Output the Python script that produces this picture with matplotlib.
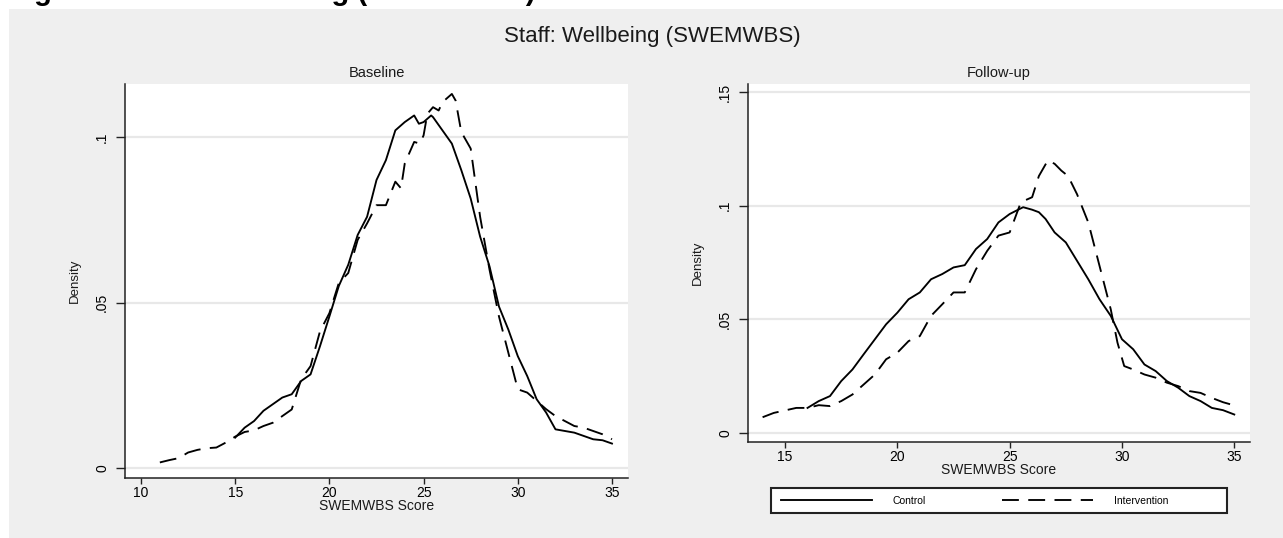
import matplotlib.pyplot as plt
from matplotlib.patches import Rectangle
import numpy as np

plt.rcParams['font.family'] = ['Liberation Sans', 'DejaVu Sans']

# Baseline - Control (solid)
base_ctrl_x = [15, 15.5, 16, 16.5, 17, 17.5, 18, 18.5, 19, 19.5, 20, 20.5, 21, 21.5, 22, 22.5,
               23, 23.5, 24, 24.5, 24.75, 25, 25.4, 25.5, 26, 26.5, 27, 27.5, 28, 28.5, 29,
               29.5, 30, 30.5, 31, 31.5, 32, 32.5, 33, 33.5, 34, 34.5, 35]
base_ctrl_y = [0.0092, 0.0122, 0.0142, 0.0173, 0.0193, 0.0213, 0.0223, 0.0263, 0.0283, 0.0368,
               0.0458, 0.0550, 0.0614, 0.0704, 0.0759, 0.0870, 0.0930, 0.1020, 0.1045, 0.1065,
               0.1040, 0.1045, 0.1065, 0.1060, 0.1020, 0.0980, 0.0900, 0.0814, 0.0699, 0.0609,
               0.0488, 0.0418, 0.0338, 0.0278, 0.0208, 0.0168, 0.0117, 0.0112, 0.0107, 0.0097,
               0.0087, 0.0084, 0.0074]

# Baseline - Intervention (dashed)
base_int_x = [11, 11.5, 12, 12.5, 13, 13.5, 14, 14.5, 15, 15.5, 16, 16.5, 17, 17.5, 18, 18.5,
              19, 19.5, 20, 20.5, 21, 21.5, 22, 22.5, 23, 23.5, 23.8, 24, 24.5, 24.8, 25, 25.2,
              25.5, 25.8, 26, 26.5, 26.7, 27, 27.5, 28, 28.5, 29, 29.5, 30, 30.5, 31, 31.5,
              32, 32.5, 33, 33.5, 34, 34.5, 35]
base_int_y = [0.0017, 0.0024, 0.0030, 0.0047, 0.0055, 0.0060, 0.0062, 0.0077, 0.0095, 0.0109,
              0.0114, 0.0127, 0.0137, 0.0157, 0.0177, 0.0268, 0.0308, 0.0413, 0.0468, 0.0559,
              0.0589, 0.0689, 0.0739, 0.0794, 0.0794, 0.0865, 0.0845, 0.0920, 0.0985, 0.0980,
              0.1005, 0.1070, 0.1090, 0.1080, 0.1105, 0.1130, 0.1110, 0.1015, 0.0965, 0.0759,
              0.0599, 0.0458, 0.0348, 0.0238, 0.0228, 0.0203, 0.0178, 0.0157, 0.0142, 0.0127,
              0.0122, 0.0112, 0.0102, 0.0087]

# Follow-up - Control (solid)
fu_ctrl_x = [16, 16.5, 17, 17.5, 18, 18.5, 19, 19.5, 20, 20.5, 21, 21.5, 22, 22.5, 23, 23.5,
             24, 24.5, 25, 25.3, 25.6, 26, 26.3, 26.6, 27, 27.5, 28, 28.5, 29, 29.5, 30, 30.5,
             31, 31.5, 32, 32.5, 33, 33.5, 34, 34.5, 35]
fu_ctrl_y = [0.0110, 0.0140, 0.0162, 0.0228, 0.0279, 0.0346, 0.0412, 0.0478, 0.0529, 0.0588,
             0.0618, 0.0676, 0.0699, 0.0728, 0.0738, 0.0809, 0.0853, 0.0926, 0.0963, 0.0978,
             0.0993, 0.0982, 0.0971, 0.0941, 0.0882, 0.0838, 0.0757, 0.0676, 0.0588, 0.0515,
             0.0412, 0.0368, 0.0301, 0.0272, 0.0228, 0.0199, 0.0162, 0.0140, 0.0110, 0.0100,
             0.0081]

# Follow-up - Intervention (dashed)
fu_int_x = [14, 14.5, 15, 15.5, 16, 16.5, 17, 17.5, 18, 18.5, 19, 19.5, 20, 20.5, 21, 21.5,
            22, 22.5, 23, 23.5, 24, 24.5, 25, 25.5, 26, 26.3, 26.7, 27, 27.3, 27.6, 28, 28.5,
            29, 29.5, 29.8, 30.1, 30.5, 31, 31.5, 32, 32.5, 33, 33.5, 34, 34.5, 35]
fu_int_y = [0.0069, 0.0088, 0.0099, 0.0110, 0.0110, 0.0122, 0.0118, 0.0140, 0.0169, 0.0213,
            0.0257, 0.0324, 0.0353, 0.0404, 0.0426, 0.0515, 0.0566, 0.0618, 0.0618, 0.0720,
            0.0801, 0.0868, 0.0882, 0.1015, 0.1037, 0.1130, 0.1199, 0.1184, 0.1154, 0.1130,
            0.1050, 0.0926, 0.0735, 0.0544, 0.0397, 0.0294, 0.0279, 0.0257, 0.0243, 0.0221,
            0.0206, 0.0184, 0.0176, 0.0154, 0.0135, 0.0121]

base_xticks = [10, 15, 20, 25, 30, 35]
base_yticks = [0, 0.05, 0.1]
fu_xticks = [15, 20, 25, 30, 35]
fu_yticks = [0, 0.05, 0.1, 0.15]

def fmt_y(v):
    if v == 0:
        return '0'
    return ('%g' % v).lstrip('0')

W, H = 1283, 538
fig = plt.figure(figsize=(W / 100, H / 100), dpi=100, facecolor='white')
fig.patches.append(Rectangle((9 / W, 0), 1 - 9 / W, 1 - 9 / H, transform=fig.transFigure,
                             facecolor='#efefef', edgecolor='none', zorder=-10))

# caption of the page, cut off at the top edge as in the source image
fig.text(8 / W, 1.0, 'Figure 5: Staff Wellbeing (SWEMWBS)', fontsize=21,
         fontweight='bold', ha='left', va='baseline', color='black')

fig.text(652 / W, 1 - 37 / H, 'Staff: Wellbeing (SWEMWBS)', fontsize=16,
         ha='center', va='center', color='#1a1a1a')

DARK = '#222222'
LW = 1.35

def style_axes(ax, xticks, yticks, xlim, ylim, title):
    ax.set_facecolor('white')
    ax.set_xlim(*xlim)
    ax.set_ylim(*ylim)
    for s in ['top', 'right']:
        ax.spines[s].set_visible(False)
    for s in ['left', 'bottom']:
        ax.spines[s].set_color(DARK)
        ax.spines[s].set_linewidth(1.1)
    ax.set_xticks(xticks)
    ax.set_xticklabels([str(t) for t in xticks])
    ax.set_yticks(yticks)
    ax.set_yticklabels([fmt_y(t) for t in yticks], rotation=90, va='center')
    ax.tick_params(axis='x', length=4, width=1, color=DARK, labelsize=10, pad=2)
    ax.tick_params(axis='y', length=6.5, width=1, color=DARK, labelsize=10, pad=5)
    ax.grid(axis='y', color='#e8e8e8', linewidth=1.6)
    ax.set_axisbelow(True)
    ax.set_title(title, fontsize=10.5, pad=5, color='#1a1a1a')
    ax.set_xlabel('SWEMWBS Score', fontsize=10, labelpad=-1, color='#1a1a1a')
    ax.set_ylabel('Density', fontsize=9.5, labelpad=10, color='#1a1a1a')

ax1 = fig.add_axes([125 / W, 1 - 478 / H, (628 - 125) / W, (478 - 84) / H])
ax1.plot(base_ctrl_x, base_ctrl_y, color='black', lw=LW)
ax1.plot(base_int_x, base_int_y, color='black', lw=LW, dashes=(9, 5))
style_axes(ax1, base_xticks, base_yticks, (9.15, 35.85), (-0.003, 0.116), 'Baseline')

ax2 = fig.add_axes([748 / W, 1 - 442 / H, (1250 - 748) / W, (442 - 84) / H])
l1, = ax2.plot(fu_ctrl_x, fu_ctrl_y, color='black', lw=LW, label='Control')
l2, = ax2.plot(fu_int_x, fu_int_y, color='black', lw=LW, dashes=(9, 5), label='Intervention')
style_axes(ax2, fu_xticks, fu_yticks, (13.35, 35.7), (-0.004, 0.1535), 'Follow-up')

# legend box (Stata style: wide white box under the right panel)
fig.patches.append(Rectangle((771 / W, 1 - 513 / H), (1227 - 771) / W, 25 / H,
                             transform=fig.transFigure, facecolor='white',
                             edgecolor=DARK, linewidth=1.5, zorder=1))
leg = fig.legend(handles=[l1, l2], loc='center left', ncol=2,
                 bbox_to_anchor=(781 / W, 1 - 500.5 / H),
                 fontsize=7.5, handlelength=8.75, handletextpad=2.0,
                 columnspacing=7.3, borderaxespad=0, borderpad=0,
                 frameon=False)
leg.set_zorder(2)

fig.savefig('out.png', dpi=100, facecolor=fig.get_facecolor())
